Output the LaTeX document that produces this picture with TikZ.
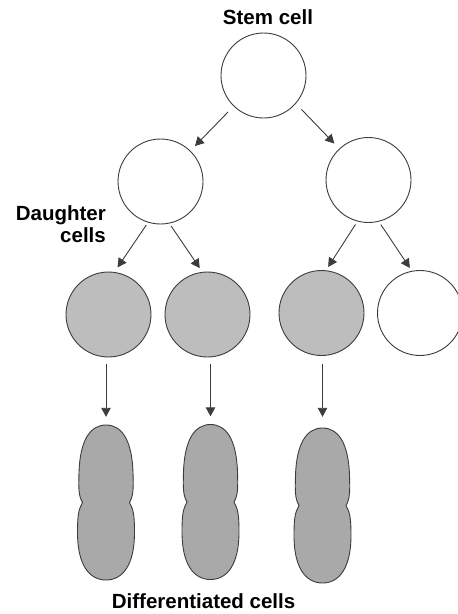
\documentclass[tikz,border=0pt]{standalone}
\usepackage{fontspec}
\setmainfont{Liberation Sans}
\usetikzlibrary{arrows.meta}

\definecolor{ink}{HTML}{3C3C3C}
\definecolor{cellgray}{HTML}{BCBDBC}
\definecolor{diffgray}{HTML}{A8A9A8}

\tikzset{
  cellcircle/.style={circle, draw=ink, line width=0.9pt, minimum size=85pt, inner sep=0pt},
  whitecell/.style={cellcircle, fill=white},
  graycell/.style={cellcircle, fill=cellgray},
  arrowlink/.style={draw=ink, line width=0.9pt, -{Triangle[length=9pt,width=9.5pt]}},
  headtext/.style={font=\bfseries\fontsize{20.5}{21.7}\selectfont, text=black, inner sep=0pt},
  diffslot/.style={minimum width=57pt, minimum height=155pt, inner sep=0pt},
  diffbody/.style={fill=diffgray, draw=ink, line width=0.9pt},
  pics/elongated/.style={code={
    \path[diffbody] (0,-77.5)
      .. controls (-16,-77.5) and (-26,-62) .. (-27,-30)
      .. controls (-27.5,-14) and (-27.5,-7) .. (-23.5,0)
      .. controls (-27.5,7) and (-28.5,13) .. (-28.5,30)
      .. controls (-28.5,62) and (-17,77.5) .. (0,77.5)
      .. controls (17,77.5) and (28.5,62) .. (28.5,30)
      .. controls (28.5,13) and (27.5,7) .. (23.5,0)
      .. controls (27.5,-7) and (27.5,-14) .. (27,-30)
      .. controls (26,-62) and (16,-77.5) .. (0,-77.5) -- cycle;
  }},
}

\begin{document}
\begin{tikzpicture}[x=1pt, y=-1pt]
  \useasboundingbox (0,0) rectangle (458,614);

  % stem cell and its two daughters
  \node[whitecell] (stem) at (263.5,75.5) {};
  \node[whitecell] (d1) at (160.5,181.5) {};
  \node[whitecell] (d2) at (368.5,180) {};

  % next generation
  \node[graycell] (g1) at (108.5,314.5) {};
  \node[graycell] (g2) at (207.5,314.5) {};
  \node[graycell] (g3) at (321.5,313) {};
  \node[whitecell] (w4) at (420,313) {};

  % differentiated cells
  \node[diffslot] (c1) at (106,502.5) {};
  \node[diffslot] (c2) at (210.5,502) {};
  \node[diffslot] (c3) at (322.5,505.5) {};
  \pic at (c1.center) {elongated};
  \pic at (c2.center) {elongated};
  \pic at (c3.center) {elongated};

  % divisions
  \draw[arrowlink, shorten <=8pt, shorten >=6.5pt] (stem) -- (d1);
  \draw[arrowlink, shorten <=8pt, shorten >=7pt] (stem.319) -- (d2.133);
  \draw[arrowlink, shorten <=3pt, shorten >=5.5pt] (d1.253) -- (g1.82);
  \draw[arrowlink, shorten <=3pt, shorten >=4.5pt] (d1.282) -- (g2.97);
  \draw[arrowlink, shorten <=3.5pt, shorten >=4pt] (d2.255.5) -- (g3.84);
  \draw[arrowlink, shorten <=3.5pt, shorten >=3.5pt] (d2.284) -- (w4.101);

  % differentiation
  \draw[arrowlink, shorten <=7pt, shorten >=8pt] (c1.north |- g1.south) -- (c1.north);
  \draw[arrowlink, shorten <=7pt, shorten >=8pt] (c2.north |- g2.south) -- (c2.north);
  \draw[arrowlink, shorten <=8.5pt, shorten >=11pt] (c3.north |- g3.south) -- (c3.north);

  % captions
  \node[headtext, anchor=base] (stemlabel) at (268,24) {Stem cell};
  \node[headtext, align=right, anchor=north east] (daughterlabel) at (106,205.3) {Daughter\\cells};
  \node[headtext, anchor=base west] (difflabel) at (111.7,608.3) {Differentiated cells};
\end{tikzpicture}
\end{document}
